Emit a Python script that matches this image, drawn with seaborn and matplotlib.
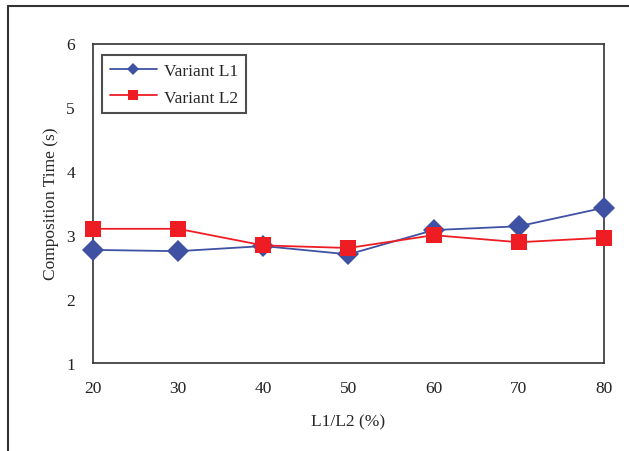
import matplotlib
matplotlib.use("Agg")
import matplotlib.pyplot as plt
import pandas as pd
import seaborn as sns
from matplotlib.lines import Line2D

# values
ratio = [20, 30, 40, 50, 60, 70, 80]
variant_l1 = [2.77, 2.75, 2.83, 2.70, 3.08, 3.14, 3.43]
variant_l2 = [3.10, 3.10, 2.84, 2.80, 3.00, 2.89, 2.96]
y_ticks = [1, 2, 3, 4, 5, 6]

blue = "#3F51A3"
red = "#EE1D24"

sns.set_style("white")
plt.rcParams["font.family"] = ["Liberation Serif", "DejaVu Serif"]

df = pd.DataFrame({
    "ratio": ratio * 2,
    "time": variant_l1 + variant_l2,
    "series": ["Variant L1"] * len(ratio) + ["Variant L2"] * len(ratio),
})

fig = plt.figure(figsize=(6.29, 4.52), dpi=100)
W, H = 629, 452
ax = fig.add_axes([93 / W, 1 - 364 / H, (604 - 93) / W, (364 - 44.5) / H])

# outer frame (top and left edges visible in the reference)
fig.add_artist(Line2D([8 / W, 8 / W], [0, 1 - 7 / H], transform=fig.transFigure,
                      color="#333333", lw=1.5))
fig.add_artist(Line2D([8 / W, 1], [1 - 7 / H, 1 - 7 / H], transform=fig.transFigure,
                      color="#333333", lw=1.5))

sns.lineplot(data=df[df.series == "Variant L1"], x="ratio", y="time", ax=ax,
             color=blue, marker="D", markersize=11, markeredgewidth=0,
             linewidth=1.3, label="Variant L1", clip_on=False, zorder=3)
sns.lineplot(data=df[df.series == "Variant L2"], x="ratio", y="time", ax=ax,
             color=red, marker="s", markersize=12, markeredgewidth=0,
             linewidth=1.3, label="Variant L2", clip_on=False, zorder=4)

ax.set_xlim(20, 80)
ax.set_ylim(1, 6)
ax.set_xticks(ratio)
ax.set_yticks(y_ticks)
ax.tick_params(direction="in", length=5, width=1, colors="#222222", labelsize=12.5,
               pad=12)
ax.tick_params(axis="y", pad=13)
for sp in ax.spines.values():
    sp.set_color("#333333")
    sp.set_linewidth(1.2)

ax.set_xlabel("L1/L2 (%)", fontsize=12.5, labelpad=13)
ax.set_ylabel("Composition Time (s)", fontsize=12.5, labelpad=5)

leg = ax.legend(loc="upper left", bbox_to_anchor=(0.0176, 0.964), borderaxespad=0,
                frameon=True, fancybox=False, edgecolor="#222222", fontsize=12.5,
                markerscale=0.55, handlelength=2.7, handletextpad=0.4,
                borderpad=0.45, labelspacing=0.6)
leg.get_frame().set_linewidth(1.5)

fig.savefig("out.png", dpi=100)
